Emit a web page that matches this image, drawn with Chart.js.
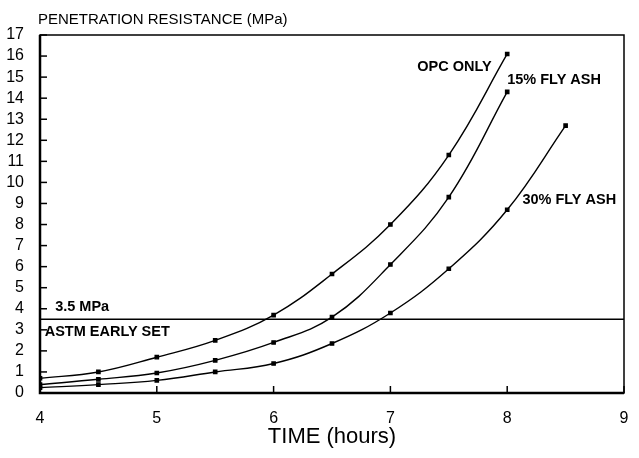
<!DOCTYPE html>
<html>
<head>
<meta charset="utf-8">
<script src="https://cdn.jsdelivr.net/npm/chart.js@4.4.0/dist/chart.umd.min.js"></script>
<style>
  html, body { margin: 0; padding: 0; background: #fff; }
  #wrap { width: 639px; height: 458px; }
</style>
</head>
<body>
<div id="wrap"><canvas id="chart" width="639" height="458"></canvas></div>
<script>
// Time of measurement (hours)
const timeHours = [4, 4.5, 5, 5.5, 6, 6.5, 7, 7.5, 8];
const timeHours30 = [4, 4.5, 5, 5.5, 6, 6.5, 7, 7.5, 8, 8.5];

// Penetration resistance (MPa)
const opcOnly = [0.7, 1.0, 1.7, 2.5, 3.7, 5.65, 8.0, 11.3, 16.1];
const flyAsh15 = [0.4, 0.65, 0.95, 1.55, 2.4, 3.6, 6.1, 9.3, 14.3];
const flyAsh30 = [0.25, 0.4, 0.6, 1.0, 1.4, 2.35, 3.8, 5.9, 8.7, 12.7];

// ASTM early set limit
const earlySet = 3.5;

const xTicks = [4, 5, 6, 7, 8, 9];
const yTicks = [0, 1, 2, 3, 4, 5, 6, 7, 8, 9, 10, 11, 12, 13, 14, 15, 16, 17];

// Labels drawn on the plot, anchored in data units
const noteLabels = [
  { text: 'OPC ONLY', x: 7.23, y: 15.5 },
  { text: '15% FLY ASH', x: 8.0, y: 14.85 },
  { text: '30% FLY ASH', x: 8.13, y: 9.15 },
  { text: '3.5 MPa', x: 4.13, y: 4.1 },
  { text: 'ASTM EARLY SET', x: 4.04, y: 2.9 }
];

function toPoints(xs, ys) {
  return xs.map((x, i) => ({ x: x, y: ys[i] }));
}

function curve(xs, ys) {
  return {
    data: toPoints(xs, ys),
    borderColor: '#000',
    backgroundColor: '#000',
    borderWidth: 1.4,
    tension: 0.4,
    pointRadius: 2.3,
    pointStyle: 'rect',
    showLine: true
  };
}

const FONT = '"Liberation Sans", Arial, sans-serif';

// frame, inward ticks, axis title and notes
const drawExtras = {
  id: 'drawExtras',
  afterDatasetsDraw(chart) {
    const ctx = chart.ctx;
    const xs = chart.scales.x, ys = chart.scales.y;
    const a = chart.chartArea;
    ctx.save();
    ctx.strokeStyle = '#000';
    ctx.lineWidth = 1.5;
    ctx.strokeRect(a.left, a.top, a.right - a.left, a.bottom - a.top);
    ctx.lineWidth = 2.5;
    ctx.beginPath();
    ctx.moveTo(a.left, a.top);
    ctx.lineTo(a.left, a.bottom);
    ctx.lineTo(a.right, a.bottom);
    ctx.stroke();

    ctx.lineWidth = 1.5;
    yTicks.forEach(v => {
      const py = ys.getPixelForValue(v);
      ctx.beginPath();
      ctx.moveTo(a.left, py);
      ctx.lineTo(a.left + 7, py);
      ctx.stroke();
    });
    xTicks.forEach(v => {
      const px = xs.getPixelForValue(v);
      ctx.beginPath();
      ctx.moveTo(px, a.bottom);
      ctx.lineTo(px, a.bottom - 7);
      ctx.stroke();
    });

    // horizontal early set line
    const ly = ys.getPixelForValue(earlySet);
    ctx.lineWidth = 1.6;
    ctx.beginPath();
    ctx.moveTo(a.left, ly);
    ctx.lineTo(a.right, ly);
    ctx.stroke();

    ctx.fillStyle = '#000';
    ctx.font = 'bold 14.5px ' + FONT;
    ctx.textBaseline = 'middle';
    ctx.textAlign = 'left';
    noteLabels.forEach(n => {
      ctx.fillText(n.text, xs.getPixelForValue(n.x), ys.getPixelForValue(n.y));
    });

    ctx.font = '15px ' + FONT;
    ctx.textBaseline = 'alphabetic';
    ctx.fillText('PENETRATION RESISTANCE (MPa)', 38, 24);
    ctx.restore();
  }
};

new Chart(document.getElementById('chart'), {
  type: 'scatter',
  data: {
    datasets: [
      curve(timeHours, opcOnly),
      curve(timeHours, flyAsh15),
      curve(timeHours30, flyAsh30)
    ]
  },
  options: {
    responsive: false,
    animation: false,
    events: [],
    layout: { padding: { top: 35, right: 15, left: 0, bottom: 0 } },
    plugins: { legend: { display: false }, tooltip: { enabled: false } },
    scales: {
      x: {
        type: 'linear',
        min: 4,
        max: 9,
        afterBuildTicks: s => { s.ticks = xTicks.map(v => ({ value: v })); },
        afterFit: s => { s.height = 65; },
        grid: { display: false },
        border: { display: false },
        ticks: { color: '#000', autoSkip: false, maxRotation: 0, font: { family: FONT, size: 16 }, padding: 8 },
        title: {
          display: true,
          text: 'TIME (hours)',
          color: '#000',
          font: { family: FONT, size: 22 },
          padding: { top: 4, bottom: 8 }
        }
      },
      y: {
        min: 0,
        max: 17,
        afterBuildTicks: s => { s.ticks = yTicks.map(v => ({ value: v })); },
        afterFit: s => { s.width = 40; },
        grid: { display: false },
        border: { display: false },
        ticks: { color: '#000', autoSkip: false, font: { family: FONT, size: 16 }, padding: 8 }
      }
    }
  },
  plugins: [drawExtras]
});
</script>
</body>
</html>
